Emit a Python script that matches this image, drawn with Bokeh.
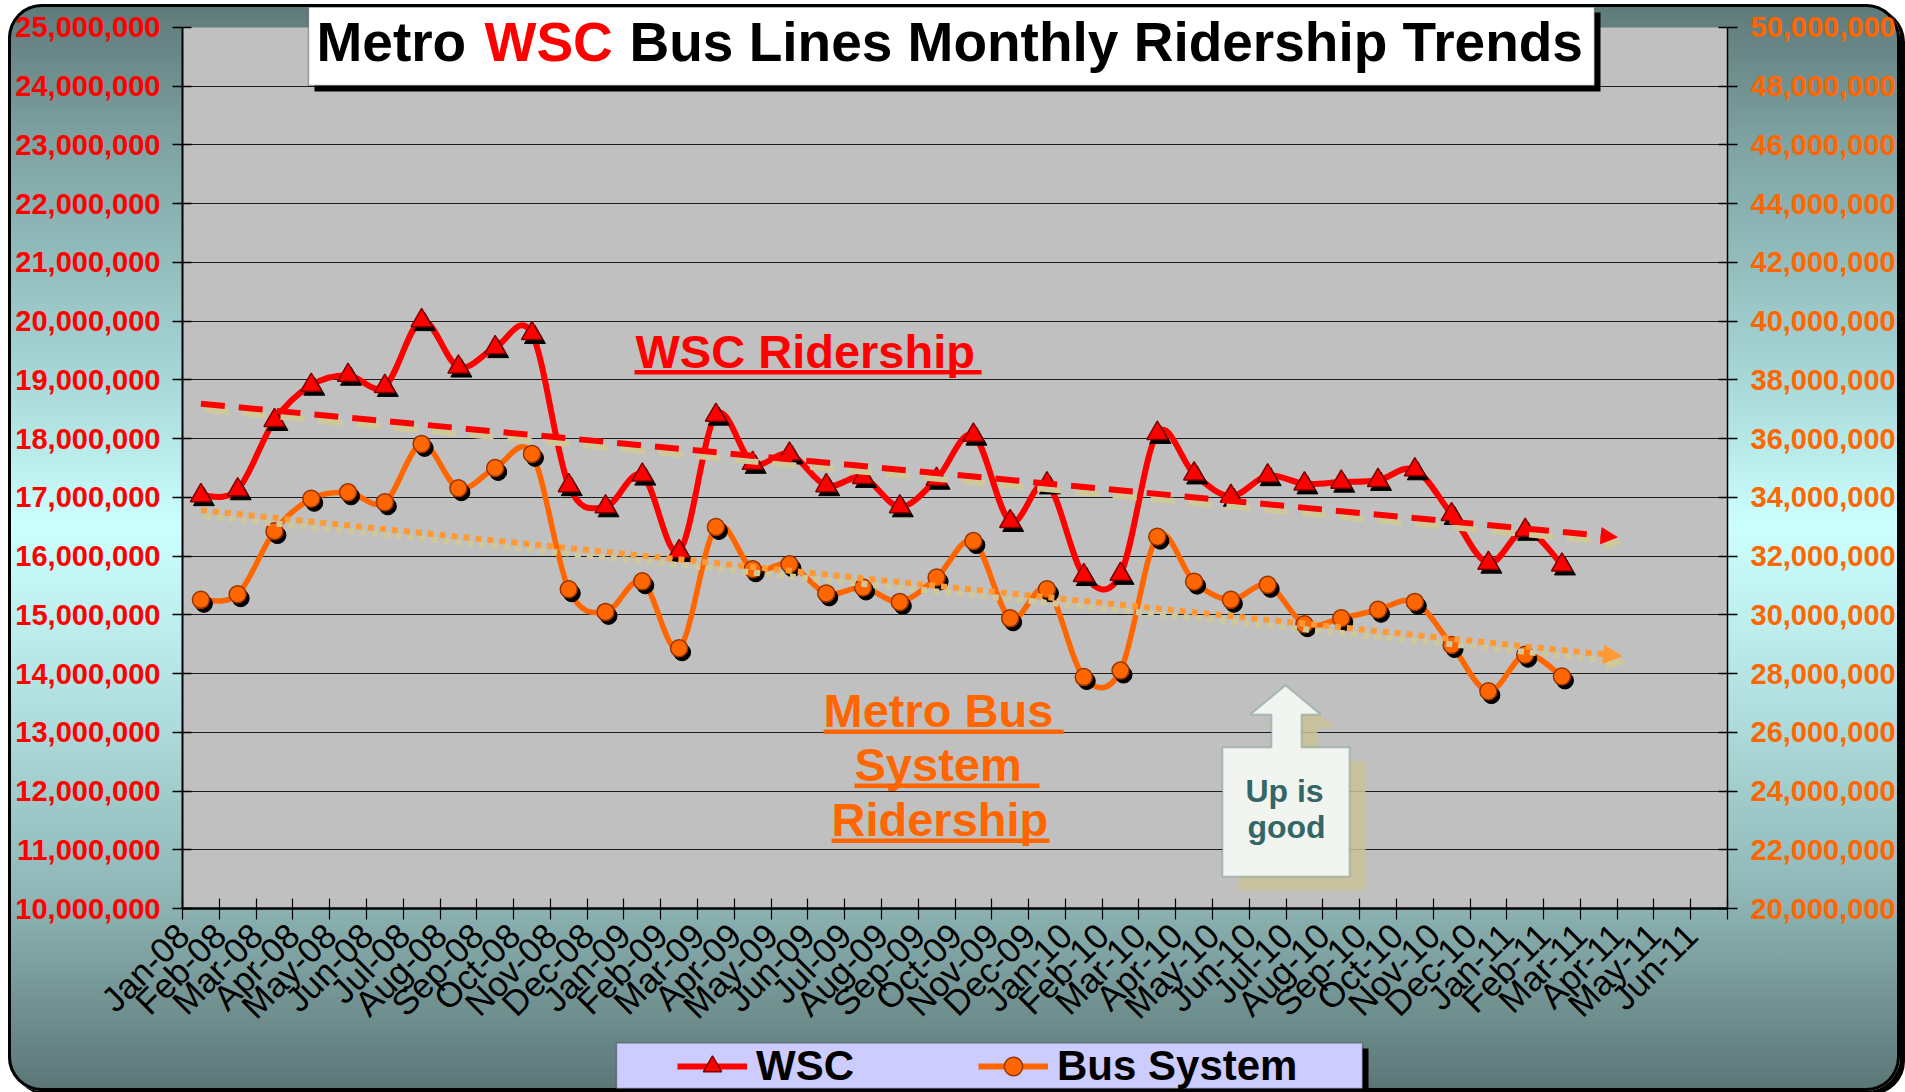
import numpy as np
from math import pi
from bokeh.plotting import figure
from bokeh.layouts import column
from bokeh.models import (Range1d, LinearAxis, SingleIntervalTicker, FixedTicker,
                          NumeralTickFormatter, CustomJSTickFormatter, Label, BoxAnnotation,
                          PolyAnnotation, Legend, LegendItem, Arrow, NormalHead, ColumnDataSource)
from bokeh.embed import file_html
from bokeh.resources import INLINE

# ---------------- data ----------------
months = ["Jan-08", "Feb-08", "Mar-08", "Apr-08", "May-08", "Jun-08", "Jul-08", "Aug-08",
          "Sep-08", "Oct-08", "Nov-08", "Dec-08", "Jan-09", "Feb-09", "Mar-09", "Apr-09",
          "May-09", "Jun-09", "Jul-09", "Aug-09", "Sep-09", "Oct-09", "Nov-09", "Dec-09",
          "Jan-10", "Feb-10", "Mar-10", "Apr-10", "May-10", "Jun-10", "Jul-10", "Aug-10",
          "Sep-10", "Oct-10", "Nov-10", "Dec-10", "Jan-11", "Feb-11", "Mar-11", "Apr-11",
          "May-11", "Jun-11"]

wsc_ridership = [17030000, 17130000, 18310000, 18910000, 19080000, 18890000, 20010000, 19220000,
                 19550000, 19790000, 17200000, 16840000, 17380000, 16080000, 18400000, 17580000,
                 17740000, 17200000, 17340000, 16840000, 17310000, 18060000, 16590000, 17230000,
                 15670000, 15690000, 18090000, 17400000, 17020000, 17370000, 17230000, 17260000,
                 17290000, 17470000, 16710000, 15880000, 16440000, 15850000]

bus_ridership = [30510000, 30700000, 32850000, 33950000, 34170000, 33830000, 35820000, 34310000,
                 35000000, 35480000, 30870000, 30100000, 31140000, 28860000, 32990000, 31550000,
                 31720000, 30730000, 30930000, 30440000, 31270000, 32510000, 29880000, 30870000,
                 27880000, 28100000, 32660000, 31130000, 30510000, 31020000, 29680000, 29880000,
                 30170000, 30440000, 28970000, 27400000, 28640000, 27900000]

wsc_axis = (10000000, 25000000)   # left axis extent
bus_axis = (20000000, 50000000)   # right axis extent

# ---------------- layout helpers ----------------
FONT = "Liberation Sans"
CW = 1892                      # container width (page x 8 .. 1900)
HM, HL = 1038, 49              # main figure / legend strip heights (page y 4 .. 1091)
FX0, FY0 = 182, 909            # plot-frame left / bottom in page pixels
FRAME_TOP = 7                  # frame top in page pixels (title box sits there)
BL, BR = 174, 173              # left / right borders of both figures


def rx(X):
    return X - FX0


def ry(Y):
    return FY0 - Y


RED = "#ff0000"
ORANGE = "#ff6600"
LORANGE = "#ff9933"
KHAKI = "#cfc99a"

n_cat = len(months)
idx = np.arange(len(wsc_ridership), dtype=float)

PX_X = 1545.0 / n_cat
PX_Y1 = 882.0 / (wsc_axis[1] - wsc_axis[0])
PX_Y2 = 882.0 / (bus_axis[1] - bus_axis[0])
extra = (FY0 - FRAME_TOP - 882.0)

p = figure(width=CW, height=HM, output_backend="svg", toolbar_location=None,
           x_range=Range1d(-0.5, n_cat - 0.5),
           y_range=Range1d(wsc_axis[0], wsc_axis[1] + extra / PX_Y1),
           min_border_left=BL, min_border_right=BR, min_border_top=3, min_border_bottom=133,
           background_fill_color=None, border_fill_color=None, outline_line_color=None)
p.extra_y_ranges = {"bus": Range1d(bus_axis[0], bus_axis[1] + extra / PX_Y2)}

# gray plot area (only up to the top of the axes)
p.add_layout(BoxAnnotation(bottom=wsc_axis[0], top=wsc_axis[1], fill_color="#c0c0c0",
                           fill_alpha=1, line_color=None, level="image"))

# ---------------- grid & axes ----------------
p.xgrid.visible = False
p.ygrid.ticker = FixedTicker(ticks=list(range(11000000, 25000000, 1000000)))
p.ygrid.grid_line_color = "#000000"
p.ygrid.grid_line_alpha = 0.85
p.ygrid.grid_line_width = 1.2


def style_y(ax, color):
    ax.major_label_text_color = color
    ax.major_label_text_font = FONT
    ax.major_label_text_font_style = "bold"
    ax.major_label_text_font_size = "29px"
    ax.major_tick_in = 9
    ax.major_tick_out = 10
    ax.major_tick_line_color = "#000000"
    ax.major_tick_line_width = 1.5
    ax.minor_tick_line_color = None
    ax.axis_line_color = "#000000"


ya = p.yaxis[0]
ya.ticker = SingleIntervalTicker(interval=1000000, num_minor_ticks=0)
ya.formatter = NumeralTickFormatter(format="0,0")
ya.bounds = wsc_axis
style_y(ya, RED)
ya.axis_line_width = 2
ya.major_label_standoff = 12

yb = LinearAxis(y_range_name="bus", ticker=SingleIntervalTicker(interval=2000000, num_minor_ticks=0),
                formatter=NumeralTickFormatter(format="0,0"), bounds=bus_axis)
style_y(yb, ORANGE)
yb.axis_line_width = 1.5
yb.major_label_standoff = 13
p.add_layout(yb, "right")

LBL_SHIFT = 0.49
xa = p.xaxis[0]
xa.ticker = FixedTicker(ticks=[i - LBL_SHIFT for i in range(n_cat)],
                        minor_ticks=[i - 0.5 for i in range(n_cat + 1)])
xa.formatter = CustomJSTickFormatter(args=dict(months=months, shift=LBL_SHIFT),
                                     code="const i = Math.round(tick + shift); return months[i] ?? '';")
xa.major_tick_in = 0
xa.major_tick_out = 0
xa.minor_tick_in = 10
xa.minor_tick_out = 11
xa.minor_tick_line_color = "#000000"
xa.minor_tick_line_width = 1.2
xa.axis_line_color = "#000000"
xa.axis_line_width = 2.5
xa.major_label_orientation = pi / 4
xa.major_label_text_font = FONT
xa.major_label_text_font_size = "35px"
xa.major_label_text_color = "#000000"
xa.major_label_standoff = 10


# ---------------- smoothed series ----------------
def smooth(xs, ys):
    n = len(xs)
    d = {k: [] for k in ("x0", "y0", "x1", "y1", "cx0", "cy0", "cx1", "cy1")}
    for i in range(n - 1):
        a = max(i - 1, 0)
        b = min(i + 2, n - 1)
        d["x0"].append(xs[i]); d["y0"].append(ys[i])
        d["x1"].append(xs[i + 1]); d["y1"].append(ys[i + 1])
        d["cx0"].append(xs[i] + (xs[i + 1] - xs[a]) / 6.0)
        d["cy0"].append(ys[i] + (ys[i + 1] - ys[a]) / 6.0)
        d["cx1"].append(xs[i + 1] - (xs[b] - xs[i]) / 6.0)
        d["cy1"].append(ys[i + 1] - (ys[b] - ys[i]) / 6.0)
    return ColumnDataSource(d)


bus_arr = np.array(bus_ridership, dtype=float)
wsc_arr = np.array(wsc_ridership, dtype=float)

p.bezier(x0="x0", y0="y0", x1="x1", y1="y1", cx0="cx0", cy0="cy0", cx1="cx1", cy1="cy1",
         source=smooth(list(idx), list(bus_arr)), line_color=ORANGE, line_width=5.5,
         y_range_name="bus")
p.scatter(idx + 3 / PX_X, bus_arr - 4 / PX_Y2, marker="circle", size=17,
          fill_color="#000000", line_color="#000000", y_range_name="bus")
p.scatter(idx, bus_arr, marker="circle", size=17, fill_color=ORANGE,
          line_color="#993300", line_width=1.5, y_range_name="bus")

p.bezier(x0="x0", y0="y0", x1="x1", y1="y1", cx0="cx0", cy0="cy0", cx1="cx1", cy1="cy1",
         source=smooth(list(idx), list(wsc_arr)), line_color=RED, line_width=6)
p.scatter(idx + 3 / PX_X, wsc_arr - 4 / PX_Y1, marker="triangle", size=21,
          fill_color="#000000", line_color="#000000")
p.scatter(idx, wsc_arr, marker="triangle", size=21, fill_color=RED,
          line_color="#800000", line_width=1.5)

# ---------------- linear trend lines ----------------
w_k, w_b = np.polyfit(idx, wsc_arr, 1)
b_k, b_b = np.polyfit(idx, bus_arr, 1)
SHX, SHY = 4.0, 6.0

tx_w = np.array([0.0, 38.2])
tx_b = np.array([0.0, 38.3])
p.line(tx_w + SHX / PX_X, w_k * tx_w + w_b - SHY / PX_Y1, line_color=KHAKI, line_width=6,
       line_dash="24 14")
p.line(tx_w, w_k * tx_w + w_b, line_color=RED, line_width=6, line_dash="24 14")
p.line(tx_b + SHX / PX_X, b_k * tx_b + b_b - SHY / PX_Y2, line_color=KHAKI, line_width=6,
       line_dash="6 6", y_range_name="bus")
p.line(tx_b, b_k * tx_b + b_b, line_color=LORANGE, line_width=6, line_dash="6 6",
       y_range_name="bus")


def head(x0, x1, k, b, color, size, rng, sdx=0.0, sdy=0.0):
    kw = {} if rng is None else {"y_range_name": rng}
    return Arrow(end=NormalHead(size=size, fill_color=color, line_color=color, line_width=1),
                 x_start=x0 + sdx, y_start=k * x0 + b + sdy,
                 x_end=x1 + sdx, y_end=k * x1 + b + sdy, line_alpha=0, **kw)


p.add_layout(head(38.0, 38.5, w_k, w_b, KHAKI, 16, None, SHX / PX_X, -SHY / PX_Y1))
p.add_layout(head(38.0, 38.5, w_k, w_b, RED, 16, None))
p.add_layout(head(38.1, 38.62, b_k, b_b, KHAKI, 18, "bus", SHX / PX_X, -SHY / PX_Y2))
p.add_layout(head(38.1, 38.62, b_k, b_b, LORANGE, 18, "bus"))


# ---------------- screen-space helpers ----------------
def sbox(fig, l, r, t, b, color, line=None, lw=1.5):
    fig.add_layout(BoxAnnotation(left=l, right=r, top=t, bottom=b,
                                 left_units="screen", right_units="screen", top_units="screen",
                                 bottom_units="screen", fill_color=color, fill_alpha=1,
                                 line_color=line, line_width=lw))


def stext(txt, X, Ybase, size, color, align="left"):
    # Ybase = page y of the text baseline
    p.add_layout(Label(x=rx(X), y=ry(Ybase) + 0.34 * size, x_units="screen", y_units="screen",
                       text=txt, text_font=FONT, text_font_style="bold",
                       text_font_size=f"{size}px", text_color=color,
                       text_baseline="alphabetic", text_align=align))


# ---------------- title ----------------
sbox(p, rx(314), rx(1600), ry(13), ry(92), "#000000")
sbox(p, rx(308), rx(1594), ry(7), ry(86), "#ffffff", "#000000", 1.5)
stext("Metro", 316, 61, 55, "#000000")
stext("WSC", 484, 61, 55, RED)
stext("Bus Lines Monthly Ridership Trends", 629, 61, 55, "#000000")

# ---------------- in-chart annotations ----------------
stext("WSC Ridership", 635, 368, 47, RED)
sbox(p, rx(634), rx(981), ry(370.5), ry(375), RED)

for txt, X, Y, ux1 in (("Metro Bus", 823, 727, 1063), ("System", 854, 781, 1039),
                       ("Ridership", 831, 836, 1049)):
    stext(txt, X, Y, 47, ORANGE)
    sbox(p, rx(X), rx(ux1), ry(Y + 3), ry(Y + 7.5), ORANGE)

callout = [(1285, 686), (1320, 715), (1301, 715), (1301, 748), (1349, 748), (1349, 877),
           (1222, 877), (1222, 748), (1271, 748), (1271, 715), (1250, 715)]
p.add_layout(PolyAnnotation(xs=[rx(x + 16) for x, y in callout], ys=[ry(y + 14) for x, y in callout],
                            xs_units="screen", ys_units="screen", fill_color="#c8c296",
                            fill_alpha=0.85, line_color=None))
p.add_layout(PolyAnnotation(xs=[rx(x) for x, y in callout], ys=[ry(y) for x, y in callout],
                            xs_units="screen", ys_units="screen", fill_color="#f1f4ef",
                            fill_alpha=1, line_color="#3f6f6f", line_width=2))
stext("Up is", 1284, 802, 32, "#336666", "center")
stext("good", 1286, 838, 32, "#336666", "center")

# ---------------- legend strip (page y 1042 .. 1091, same frame x as main plot) ----------------
pl = figure(width=CW, height=HL, output_backend="svg", toolbar_location=None,
            x_range=Range1d(0, 1), y_range=Range1d(0, 1), x_axis_type=None, y_axis_type=None,
            min_border_left=BL, min_border_right=BR, min_border_top=0, min_border_bottom=0,
            background_fill_color=None, border_fill_color=None, outline_line_color=None)
pl.xgrid.visible = False
pl.ygrid.visible = False
LGY = 1091                       # page y of the legend strip frame bottom


def ly(Y):
    return LGY - Y


sbox(pl, rx(622), rx(1368), ly(1048), ly(1088), "#000000")
sbox(pl, rx(616), rx(1362), ly(1042.5), ly(1088), "#ccccff", "#000000", 1.5)

lw_line = pl.line(x=[-5, -4], y=[-5, -5], line_color=RED, line_width=6)
lw_mark = pl.scatter(x=[-5], y=[-5], marker="triangle", size=20, fill_color=RED,
                     line_color="#800000", line_width=1.5)
lb_line = pl.line(x=[-5, -4], y=[-5, -5], line_color=ORANGE, line_width=6)
lb_mark = pl.scatter(x=[-5], y=[-5], marker="circle", size=17, fill_color=ORANGE,
                     line_color="#993300", line_width=1.5)

legend = Legend(items=[LegendItem(label="WSC", renderers=[lw_line, lw_mark]),
                       LegendItem(label="Bus System", renderers=[lb_line, lb_mark])],
                orientation="horizontal", location=(rx(677), ly(1090)),
                label_text_font=FONT, label_text_font_style="bold", label_text_font_size="42px",
                label_text_color="#000000", glyph_width=70, glyph_height=46, label_height=46,
                label_standoff=9, spacing=124, padding=0, margin=0,
                background_fill_alpha=0, border_line_color=None)
pl.add_layout(legend, "center")

root = column(p, pl, spacing=0, styles={
    "margin": "4px 0 0 8px",
    "background": "linear-gradient(to bottom, #5f7979 0%, #7fa3a3 13%, #a6d6d6 34%, "
                  "#ccffff 48%, #b2e0e0 64%, #8fb6b6 82%, #5b7575 100%)",
    "border-radius": "34px",
    "box-shadow": "inset 0 0 0 3px #000000, 5px 4px 0 0 #000000",
})

open("out.html", "w").write(file_html(root, INLINE))
